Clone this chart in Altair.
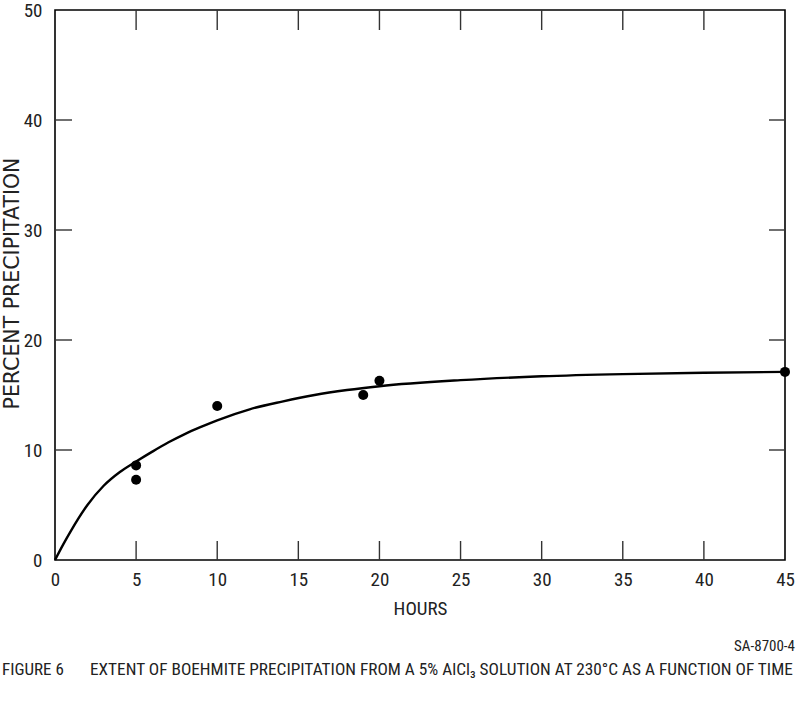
import altair as alt
import pandas as pd

# ---- data ----
obs_hours = [5, 5, 10, 19, 20, 45]
obs_pct = [8.6, 7.3, 14.0, 15.0, 16.3, 17.1]

curve_hours = [0, 0.5, 1, 2, 3, 4, 5, 6, 7, 8, 9, 10, 12, 14, 16, 18, 20, 25, 30, 35, 40, 45]
curve_pct = [0, 1.4, 2.7, 5.0, 6.75, 8.0, 8.95, 9.85, 10.7, 11.45, 12.1, 12.7, 13.7, 14.4, 15.0, 15.45, 15.8, 16.35, 16.7, 16.9, 17.02, 17.1]

x_tick_values = [0, 5, 10, 15, 20, 25, 30, 35, 40, 45]
x_inner_ticks = [5, 10, 15, 20, 25, 30, 35, 40]
y_tick_values = [0, 10, 20, 30, 40, 50]
y_inner_ticks = [10, 20, 30, 40]

x_title = "HOURS"
y_title = "PERCENT PRECIPITATION"
fig_label = "FIGURE 6"
caption = "EXTENT OF BOEHMITE PRECIPITATION FROM A 5% AlCl\u2083 SOLUTION AT 230\u00b0C AS A FUNCTION OF TIME"
code_label = "SA-8700-4"

W, H = 730, 550
NARROW = "'Liberation Sans Narrow', 'Arial Narrow', 'Roboto Condensed', 'DejaVu Sans Condensed', sans-serif"

obs = pd.DataFrame({"h": obs_hours, "p": obs_pct})
curve = pd.DataFrame({"h": curve_hours, "p": curve_pct})
xt = pd.DataFrame({"h": x_inner_ticks})
yt = pd.DataFrame({"p": y_inner_ticks})

xs = alt.Scale(domain=[0, 45], nice=False, zero=False)
ys = alt.Scale(domain=[0, 50], nice=False, zero=False)

x_axis = alt.Axis(values=x_tick_values, ticks=False, domain=False, grid=False,
                  labelFont=NARROW, labelFontSize=19, labelColor="#222", labelPadding=10,
                  title=x_title, titleFont=NARROW, titleFontSize=19, titleFontWeight="normal",
                  titleColor="#222", titlePadding=10, labelFlush=False)
y_axis = alt.Axis(values=y_tick_values, ticks=False, domain=False, grid=False,
                  labelFont=NARROW, labelFontSize=19, labelColor="#222", labelPadding=13,
                  title=y_title, titleFont="DejaVu Sans", titleFontSize=20.5, titleFontWeight="normal",
                  titleColor="#222", titleX=-43, titleY=H / 2 - 2, titleAngle=-90,
                  titleAlign="center", titleBaseline="middle", labelFlush=False)

line = alt.Chart(curve).mark_line(interpolate="monotone", color="black", strokeWidth=2.4).encode(
    x=alt.X("h:Q", scale=xs, axis=x_axis),
    y=alt.Y("p:Q", scale=ys, axis=y_axis),
)

pts = alt.Chart(obs).mark_point(filled=True, shape="circle", size=100, color="black", opacity=1).encode(
    x=alt.X("h:Q", scale=xs),
    y=alt.Y("p:Q", scale=ys),
)

tick_style = dict(color="#333", strokeWidth=1.4)
bottom_ticks = alt.Chart(xt).mark_rule(**tick_style).encode(
    x=alt.X("h:Q", scale=xs), y=alt.value(H), y2=alt.value(H - 19))
top_ticks = alt.Chart(xt).mark_rule(**tick_style).encode(
    x=alt.X("h:Q", scale=xs), y=alt.value(0), y2=alt.value(20))
left_ticks = alt.Chart(yt).mark_rule(**tick_style).encode(
    y=alt.Y("p:Q", scale=ys), x=alt.value(0), x2=alt.value(17))
right_ticks = alt.Chart(yt).mark_rule(**tick_style).encode(
    y=alt.Y("p:Q", scale=ys), x=alt.value(W), x2=alt.value(W - 16))

fig_txt = alt.Chart(pd.DataFrame({"t": [fig_label]})).mark_text(
    font=NARROW, fontSize=17, align="left", baseline="alphabetic", color="#222").encode(
    text="t:N", x=alt.value(-53), y=alt.value(665))
cap_txt = alt.Chart(pd.DataFrame({"t": [caption]})).mark_text(
    font=NARROW, fontSize=17.3, align="left", baseline="alphabetic", color="#222").encode(
    text="t:N", x=alt.value(35), y=alt.value(665))
code_txt = alt.Chart(pd.DataFrame({"t": [code_label]})).mark_text(
    font=NARROW, fontSize=15, align="right", baseline="alphabetic", color="#222").encode(
    text="t:N", x=alt.value(740), y=alt.value(641))

chart = alt.layer(line, pts, bottom_ticks, top_ticks, left_ticks, right_ticks,
                  fig_txt, cap_txt, code_txt).properties(
    width=W, height=H,
    autosize=alt.AutoSizeParams(type="none"),
    padding={"left": 55, "top": 10, "right": 15, "bottom": 153},
    background="white",
).configure_view(stroke="black", strokeWidth=1.6)

chart.save("out.html", embed_options={"renderer": "svg", "actions": False})
